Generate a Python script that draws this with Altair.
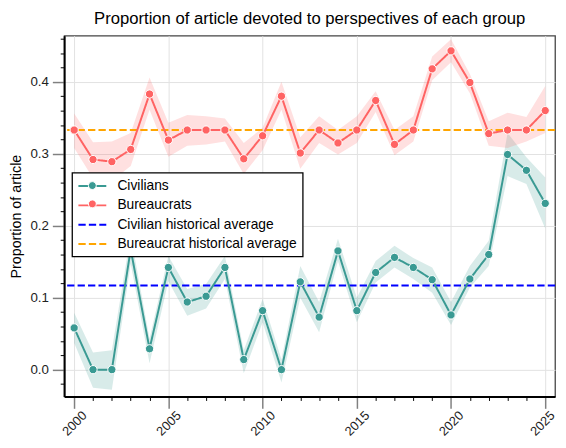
import altair as alt
import pandas as pd

FONT = "Liberation Sans"

years = list(range(2000, 2026))

civ = [0.058, 0.0, 0.0, 0.167, 0.029, 0.142, 0.094, 0.102, 0.142, 0.014, 0.082, 0.0, 0.122,
       0.073, 0.165, 0.082, 0.135, 0.156, 0.142, 0.125, 0.076, 0.126, 0.160, 0.299, 0.277, 0.231]
civ_lo = [0.037, -0.025, -0.028, 0.147, 0.009, 0.123, 0.075, 0.085, 0.126, -0.005, 0.066, -0.018, 0.100,
          0.052, 0.151, 0.066, 0.121, 0.142, 0.126, 0.107, 0.062, 0.114, 0.144, 0.269, 0.258, 0.196]
civ_hi = [0.079, 0.024, 0.027, 0.187, 0.043, 0.158, 0.112, 0.119, 0.158, 0.027, 0.098, 0.014, 0.144,
          0.094, 0.182, 0.100, 0.151, 0.172, 0.155, 0.142, 0.094, 0.144, 0.179, 0.329, 0.295, 0.267]

bur = [0.333, 0.292, 0.289, 0.306, 0.383, 0.319, 0.333, 0.333, 0.333, 0.293, 0.325, 0.380, 0.301,
       0.333, 0.315, 0.333, 0.374, 0.313, 0.333, 0.418, 0.443, 0.399, 0.328, 0.333, 0.333, 0.360]
bur_lo = [0.308, 0.266, 0.262, 0.283, 0.361, 0.296, 0.311, 0.313, 0.317, 0.272, 0.305, 0.361, 0.279,
          0.315, 0.299, 0.315, 0.358, 0.298, 0.317, 0.402, 0.427, 0.384, 0.311, 0.308, 0.317, 0.329]
bur_hi = [0.356, 0.316, 0.317, 0.329, 0.406, 0.343, 0.354, 0.352, 0.349, 0.315, 0.336, 0.400, 0.323,
          0.352, 0.333, 0.352, 0.387, 0.333, 0.352, 0.435, 0.459, 0.411, 0.345, 0.357, 0.351, 0.394]

civ_avg = 0.117
bur_avg = 0.333

series_names = ["Civilians", "Bureaucrats", "Civilian historical average", "Bureaucrat historical average"]
series_colors = ["#3A9A93", "#FF6363", "#0000FF", "#FFA500"]
series_dash = [[1, 0], [1, 0], [7.4, 3.2], [7.4, 3.2]]

x_tick_values = list(range(2000, 2026))
y_tick_values = [round(-0.02 + 0.02 * i, 2) for i in range(25)]

df = pd.DataFrame({
    "year": years * 2,
    "series": ["Civilians"] * len(years) + ["Bureaucrats"] * len(years),
    "value": civ + bur,
    "lo": civ_lo + bur_lo,
    "hi": civ_hi + bur_hi,
})
avg_df = pd.DataFrame({"series": series_names[2:], "value": [civ_avg, bur_avg]})

x_scale = alt.Scale(domain=[1999.47, 2025.52], nice=False, zero=False)
y_scale = alt.Scale(domain=[-0.0373, 0.464], nice=False, zero=False)

x_major = "datum.value % 5 === 0"
y_major = "abs(datum.value * 10 - round(datum.value * 10)) < 0.001"


def cond(test, a, b):
    return {"condition": {"test": test, "value": a}, "value": b}


x_axis = alt.Axis(
    values=x_tick_values, format="d",
    labelExpr=x_major + " ? datum.label : ''",
    labelAngle=-45, labelAlign="center", labelBaseline="middle", labelPadding=15,
    labelOffset=cond("datum.value === 2025", -3, 0),
    labelOverlap=False, labelFlush=False,
    labelFont=FONT, labelFontSize=13, labelColor="#222",
    tickSize=cond(x_major, 12, 4), tickColor=cond(x_major, "#808080", "#000000"),
    tickWidth=cond(x_major, 1.5, 1),
    grid=True, gridColor="#e2e2e2", gridWidth=1, gridOpacity=cond(x_major, 1, 0),
    domainColor="black", domainWidth=2, title=None,
)

y_axis = alt.Axis(
    values=y_tick_values,
    labelExpr=y_major + " ? format(datum.value, '.1f') : ''",
    labelPadding=4, labelOverlap=False, labelFlush=False,
    labelFont=FONT, labelFontSize=13.5, labelColor="#222",
    tickSize=cond(y_major, 12, 4), tickColor=cond(y_major, "#808080", "#000000"),
    tickWidth=cond(y_major, 1.5, 1),
    grid=True, gridColor="#e2e2e2", gridWidth=1, gridOpacity=cond(y_major, 1, 0),
    domainColor="black", domainWidth=2,
    title="Proportion of article", titleFont=FONT, titleFontSize=14.5,
    titleFontWeight="normal", titleColor="black", titlePadding=7,
)

legend_a = alt.Legend(
    title=None, orient="none", legendX=8, legendY=139,
    strokeColor="black", fillColor="white", padding=5, cornerRadius=0,
    labelFont=FONT, labelFontSize=14, labelColor="black", labelOffset=24, labelLimit=400,
    rowPadding=3.6, symbolType="M-1,0H3", symbolSize=200, symbolStrokeWidth=2,
    zindex=1,
)
circle_path = "M-1,0M3,0M1.566,0A0.566,0.566,0,1,1,0.434,0A0.566,0.566,0,1,1,1.566,0Z"
legend_b = alt.Legend(
    title=None, orient="none", legendX=8, legendY=139, padding=5,
    labelFont=FONT, labelFontSize=14, labelOpacity=0, labelOffset=24, labelLimit=400,
    rowPadding=3.6, symbolType=circle_path, symbolSize=200,
    symbolStrokeColor="white", symbolStrokeWidth=1, symbolOffset=0.5, symbolOpacity=1,
    zindex=2,
)

color_scale = alt.Scale(domain=series_names, range=series_colors)
dash_scale = alt.Scale(domain=series_names, range=series_dash)
fill_scale = alt.Scale(domain=series_names[:2], range=series_colors[:2])

X = alt.X("year:Q", scale=x_scale, axis=x_axis)

bands = []
for name, col in zip(series_names[:2], series_colors[:2]):
    bands.append(
        alt.Chart(df[df["series"] == name]).mark_area(color=col, opacity=0.2).encode(
            x=X,
            y=alt.Y("lo:Q", scale=y_scale, axis=y_axis),
            y2="hi:Q",
        )
    )

rules = alt.Chart(avg_df).mark_rule(strokeWidth=2).encode(
    y=alt.Y("value:Q", scale=y_scale, axis=y_axis),
    color=alt.Color("series:N", scale=color_scale, legend=legend_a),
    strokeDash=alt.StrokeDash("series:N", scale=dash_scale, legend=legend_a),
)

lines = alt.Chart(df).mark_line(strokeWidth=2).encode(
    x=X,
    y=alt.Y("value:Q", scale=y_scale, axis=y_axis),
    color=alt.Color("series:N", scale=color_scale, legend=legend_a),
    strokeDash=alt.StrokeDash("series:N", scale=dash_scale, legend=legend_a),
)

points = alt.Chart(df).mark_circle(size=70, opacity=1, stroke="white", strokeWidth=1).encode(
    x=X,
    y=alt.Y("value:Q", scale=y_scale, axis=y_axis),
    fill=alt.Fill("series:N", scale=fill_scale, legend=legend_b),
)

chart = alt.layer(*bands, rules, lines, points).properties(
    width=498, height=366,
    title=alt.TitleParams(
        "Proportion of article devoted to perspectives of each group",
        font=FONT, fontSize=16.9, fontWeight="normal", color="black",
        anchor="middle", offset=4,
    ),
    autosize=alt.AutoSizeParams(type="none"),
    padding={"left": 57, "top": 25, "right": 3, "bottom": 41},
).configure_view(
    stroke="#444", strokeWidth=1.3
).configure_legend(
    strokeWidth=1.3
)

chart.save("out.html", embed_options={"renderer": "svg", "actions": False})
